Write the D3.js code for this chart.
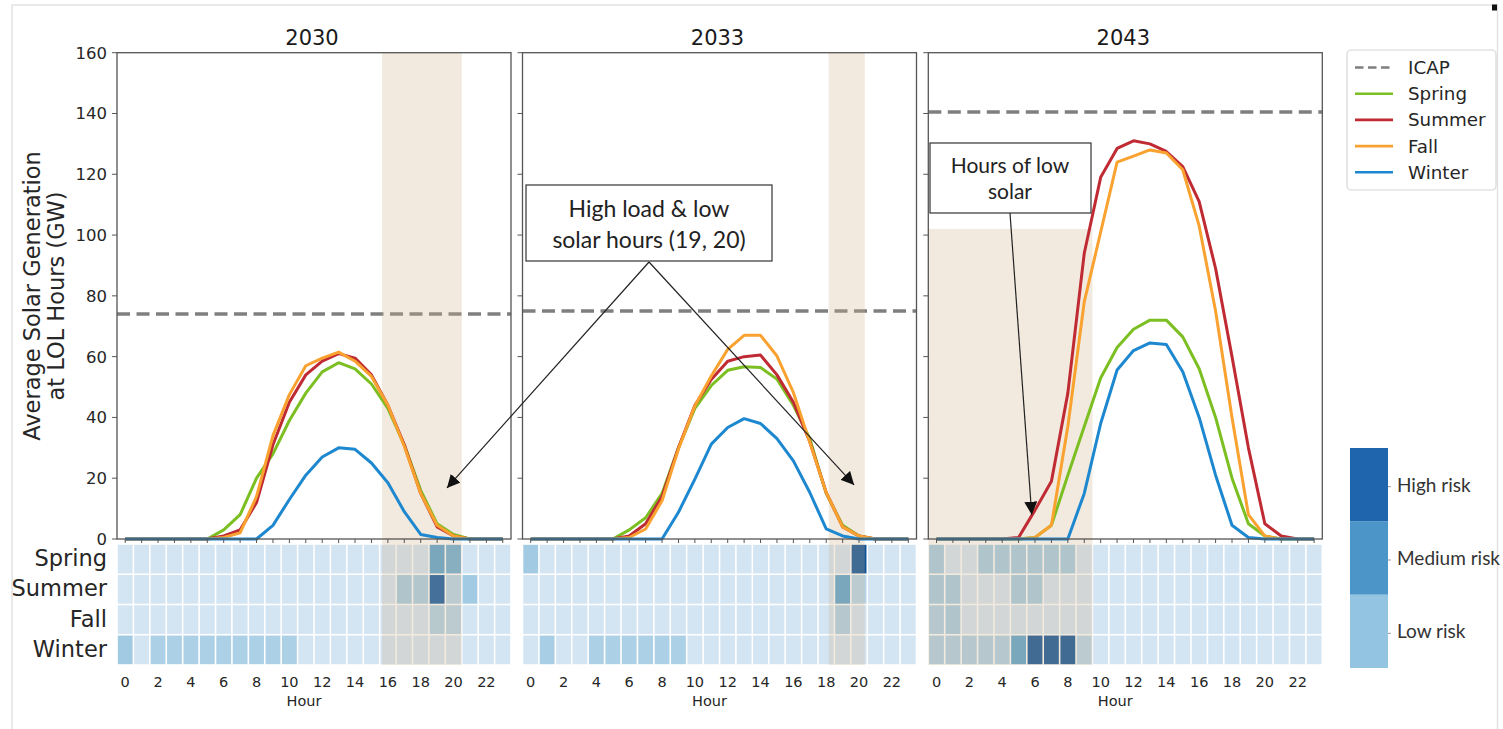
<!DOCTYPE html>
<html><head><meta charset="utf-8">
<script src="https://cdn.jsdelivr.net/npm/d3@7"></script>
<style>
html,body{margin:0;padding:0;background:#fff;}
svg{display:block;}
</style></head>
<body>
<svg id="chart" width="1503" height="729"></svg>
<script>
// ---------------- data ----------------
const years = ["2030", "2033", "2043"];
const seasons = ["Spring", "Summer", "Fall", "Winter"];
const hours = [0,1,2,3,4,5,6,7,8,9,10,11,12,13,14,15,16,17,18,19,20,21,22,23];
const hourTicks = [0,2,4,6,8,10,12,14,16,18,20,22];
const yTicks = [0,20,40,60,80,100,120,140,160];
const icap = [74, 75, 140.5];

const spring2030 = [0,0,0,0,0,0,3,8,20,28,39,48,55,58,56,51,43,31,16,5,1.5,0,0,0];
const summer2030 = [0,0,0,0,0,0,1,3,12,31,45,54,58.5,61,59.5,54,44,31,15,4,1,0,0,0];
const fall2030   = [0,0,0,0,0,0,0.5,2,14,34,47.5,57,59.5,61.5,58.5,53.5,44,30.5,15,4.5,1,0,0,0];
const winter2030 = [0,0,0,0,0,0,0,0,0,4.5,13,21,27,30,29.5,25,18.5,9,1.5,0.5,0,0,0,0];

const spring2033 = [0,0,0,0,0,0,3,7,15,30,43,50.5,55.5,56.7,56.4,52.6,44,33,15,4.5,1,0,0,0];
const summer2033 = [0,0,0,0,0,0,1,5,14,30,44,52.5,58.5,60,60.5,54,45,32,15.3,4,1,0,0,0];
const fall2033   = [0,0,0,0,0,0,0.5,3.3,12.6,29.6,43.8,53.6,62.4,67,67,60.2,48.2,31.8,15.3,4,1,0,0,0];
const winter2033 = [0,0,0,0,0,0,0,0,0,8.8,19.7,31.2,36.7,39.6,38,33,25.7,15.3,3.3,1,0,0,0,0];

const spring2043 = [0,0,0,0,0,0,0.5,4.5,21,37,53,63,69,72,72,66.5,56,40,20,5,1,0,0,0];
const summer2043 = [0,0,0,0,0,0.5,9.5,19,48,94,119,128.5,131,130,127.5,122.5,111,89,60,30,5,1,0,0];
const fall2043   = [0,0,0,0,0,0,0.5,4.5,37,78,101,124,126,128,127,121.5,103,75,40,8,1,0,0,0];
const winter2043 = [0,0,0,0,0,0,0,0,0,15,38,55.6,62,64.5,64,55,40,21,4.5,0.5,0,0,0,0];

// risk intensity per season (rows) and hour (cols)
const risk2030 = [
  [.18,.18,.18,.18,.18,.18,.18,.18,.18,.18,.18,.18,.18,.18,.18,.18,.18,.18,.18,.55,.5,.18,.18,.18],
  [.18,.18,.18,.18,.18,.18,.18,.18,.18,.18,.18,.18,.18,.18,.18,.18,.18,.36,.34,.85,.3,.36,.18,.18],
  [.18,.18,.18,.18,.18,.18,.18,.18,.18,.18,.18,.18,.18,.18,.18,.18,.18,.18,.18,.32,.3,.18,.18,.18],
  [.36,.18,.33,.33,.33,.33,.33,.33,.33,.33,.33,.18,.18,.18,.18,.18,.18,.18,.18,.18,.18,.18,.18,.18]
];
const risk2033 = [
  [.36,.18,.18,.18,.18,.18,.18,.18,.18,.18,.18,.18,.18,.18,.18,.18,.18,.18,.18,.18,.88,.18,.18,.18],
  [.18,.18,.18,.18,.18,.18,.18,.18,.18,.18,.18,.18,.18,.18,.18,.18,.18,.18,.18,.55,.3,.18,.18,.18],
  [.18,.18,.18,.18,.18,.18,.18,.18,.18,.18,.18,.18,.18,.18,.18,.18,.18,.18,.18,.33,.18,.18,.18,.18],
  [.18,.34,.18,.18,.33,.33,.33,.33,.33,.33,.18,.18,.18,.18,.18,.18,.18,.18,.18,.18,.18,.18,.18,.18]
];
const risk2043 = [
  [.36,.18,.18,.36,.36,.36,.36,.36,.36,.18,.18,.18,.18,.18,.18,.18,.18,.18,.18,.18,.18,.18,.18,.18],
  [.36,.36,.18,.18,.18,.36,.36,.18,.18,.18,.18,.18,.18,.18,.18,.18,.18,.18,.18,.18,.18,.18,.18,.18],
  [.33,.36,.18,.18,.18,.18,.18,.18,.18,.18,.18,.18,.18,.18,.18,.18,.18,.18,.18,.18,.18,.18,.18,.18],
  [.33,.33,.33,.33,.33,.55,.88,.88,.88,.3,.18,.18,.18,.18,.18,.18,.18,.18,.18,.18,.18,.18,.18,.18]
];

// shaded windows: [start hour edge, end hour edge, top value]
const windows = [[15.65, 20.5, 160], [18.15, 20.35, 160], [-0.5, 9.5, 102]];

const riskLevels = ["Low risk", "Medium risk", "High risk"];
const riskColors = ["#93c4e1", "#4b95c9", "#1f65ad"];

const seriesColors = {Spring: "#7cbf22", Summer: "#bf2a33", Fall: "#f9a230", Winter: "#1d88cf"};
const lineData = [
  {Spring: spring2030, Summer: summer2030, Fall: fall2030, Winter: winter2030},
  {Spring: spring2033, Summer: summer2033, Fall: fall2033, Winter: winter2033},
  {Spring: spring2043, Summer: summer2043, Fall: fall2043, Winter: winter2043}
];
const riskData = [risk2030, risk2033, risk2043];

// ---------------- layout ----------------
const svg = d3.select("#chart");
const panelLefts = [117, 522.5, 928.3];
const panelW = 394;
const plotTop = 52.7, plotBottom = 539;
const heatTop = 544, heatBottom = 665;
const DV = "DejaVu Sans, sans-serif";
const LATO = "Lato, sans-serif";

// page frame
svg.append("rect").attr("x",0).attr("y",0).attr("width",1503).attr("height",729).attr("fill","#fff");
svg.append("path").attr("d","M12,729 L12,5 L1497.5,5 L1497.5,729").attr("fill","none").attr("stroke","#e2e2e2").attr("stroke-width",1.5);
svg.append("rect").attr("x",1492).attr("y",4.5).attr("width",5).attr("height",6).attr("fill","#111");

const y = d3.scaleLinear().domain([0,160]).range([plotBottom, plotTop]);
const ySeason = d3.scaleBand().domain(seasons).range([heatTop, heatBottom]);
const blues = v => d3.interpolateBlues(v);
const panels = [];

years.forEach((yr, p) => {
  const left = panelLefts[p];
  const x = d3.scaleLinear().domain([-0.5, 23.5]).range([left, left + panelW]);
  const g = svg.append("g");
  const cw = x(1) - x(0);

  // heatmap
  riskData[p].forEach((row, si) => {
    g.selectAll(null).data(row).enter().append("rect")
      .attr("x", (d,i) => x(hours[i]-0.5) + 0.8)
      .attr("y", ySeason(seasons[si]) + 0.8)
      .attr("width", cw - 1.6)
      .attr("height", ySeason.bandwidth() - 1.6)
      .attr("fill", d => blues(d));
  });

  // ICAP
  g.append("line").attr("x1", x(-0.5)).attr("x2", x(23.5))
    .attr("y1", y(icap[p])).attr("y2", y(icap[p]))
    .attr("stroke", "#7f7f7f").attr("stroke-width", 3.5).attr("stroke-dasharray", "13,6.5");

  // shaded window
  const w = windows[p];
  g.append("rect").attr("x", x(w[0])).attr("width", x(w[1]) - x(w[0]))
    .attr("y", y(w[2])).attr("height", heatBottom - y(w[2]))
    .attr("fill", "rgb(210,180,140)").attr("opacity", 0.28);

  // season lines
  const line = d3.line().x((d,i) => x(hours[i])).y(d => y(d));
  seasons.forEach(s => {
    g.append("path").datum(lineData[p][s]).attr("d", line)
      .attr("fill","none").attr("stroke", seriesColors[s]).attr("stroke-width", 3)
      .attr("stroke-linejoin","round");
  });

  // frame
  g.append("rect").attr("x", left).attr("y", plotTop).attr("width", panelW).attr("height", plotBottom - plotTop)
    .attr("fill","none").attr("stroke","#555").attr("stroke-width",1.3);

  // bottom ticks (each hour)
  g.selectAll(null).data(hours).enter().append("line")
    .attr("x1", d => x(d)).attr("x2", d => x(d)).attr("y1", plotBottom).attr("y2", plotBottom + 4)
    .attr("stroke", "#555").attr("stroke-width", 1);

  // left ticks
  g.selectAll(null).data(yTicks).enter().append("line")
    .attr("x1", left - 5).attr("x2", left).attr("y1", d => y(d)).attr("y2", d => y(d))
    .attr("stroke", "#555").attr("stroke-width", 1);

  if (p === 0) {
    g.selectAll(null).data(yTicks).enter().append("text")
      .attr("x", left - 10).attr("y", d => y(d)).attr("dy", "0.36em")
      .attr("text-anchor","end").attr("font-family", DV).attr("font-size", 16.5).attr("fill","#262626")
      .text(d => d);
    g.selectAll(null).data(seasons).enter().append("text")
      .attr("x", 107).attr("y", d => ySeason(d) + ySeason.bandwidth()/2 - 1).attr("dy","0.36em")
      .attr("text-anchor","end").attr("font-family", DV).attr("font-size", 22.5).attr("fill","#262626")
      .text(d => d);
  }

  // hour tick labels
  g.selectAll(null).data(hourTicks).enter().append("text")
    .attr("x", d => x(d)).attr("y", 686.5)
    .attr("text-anchor","middle").attr("font-family", DV).attr("font-size", 14.5).attr("fill","#262626")
    .text(d => d);
  g.append("text").attr("x", left + panelW/2 - 10).attr("y", 705.5)
    .attr("text-anchor","middle").attr("font-family", DV).attr("font-size", 14.5).attr("fill","#262626")
    .text("Hour");

  // title
  g.append("text").attr("x", left + panelW/2 - 2).attr("y", 44.5)
    .attr("text-anchor","middle").attr("font-family", DV).attr("font-size", 21).attr("fill","#1a1a1a")
    .text(yr);

  panels.push({left, x});
});

// y label
const yl = svg.append("g").attr("font-family", DV).attr("font-size", 22.5).attr("fill","#262626").attr("text-anchor","middle");
yl.append("text").attr("transform","translate(40,296) rotate(-90)").text("Average Solar Generation");
yl.append("text").attr("transform","translate(63.5,296) rotate(-90)").text("at LOL Hours (GW)");

// legend
const lg = svg.append("g");
lg.append("rect").attr("x",1347).attr("y",50).attr("width",149).attr("height",140).attr("rx",4)
  .attr("fill","#fff").attr("stroke","#d6d6d6").attr("stroke-width",1.2);
const legendItems = ["ICAP"].concat(seasons);
legendItems.forEach((name, i) => {
  const by = 74 + i * 26.2;
  lg.append("line").attr("x1",1355).attr("x2",1393).attr("y1",by-6.5).attr("y2",by-6.5)
    .attr("stroke", name === "ICAP" ? "#7f7f7f" : seriesColors[name]).attr("stroke-width", 2.6)
    .attr("stroke-dasharray", name === "ICAP" ? "8.5,4.5" : null);
  lg.append("text").attr("x",1408).attr("y",by).attr("font-family",DV).attr("font-size",18.3).attr("fill","#262626").text(name);
});

// colorbar
const cb = d3.scaleLinear().domain([0,3]).range([668,448]);
riskLevels.forEach((lvl, i) => {
  svg.append("rect").attr("x",1350).attr("width",38).attr("y",cb(i+1)).attr("height",cb(i)-cb(i+1)).attr("fill",riskColors[i]);
  svg.append("line").attr("x1",1388).attr("x2",1391).attr("y1",cb(i+0.5)+2).attr("y2",cb(i+0.5)+2).attr("stroke","#999").attr("stroke-width",1);
  svg.append("text").attr("x",1397).attr("y",cb(i+0.5)).attr("dy","0.36em").attr("font-family",LATO).attr("font-size",19).attr("fill","#333").text(lvl);
});

// annotations
const defs = svg.append("defs");
defs.append("marker").attr("id","ah").attr("viewBox","0 0 10 10").attr("refX",10).attr("refY",5)
  .attr("markerWidth",13).attr("markerHeight",13).attr("markerUnits","userSpaceOnUse").attr("orient","auto")
  .append("path").attr("d","M0,0 L10,5 L0,10 z").attr("fill","#111");

const p1 = panels[0], p2 = panels[1], p3 = panels[2];
const an = svg.append("g");
// arrows from box 1
const apex = [649, 262];
an.append("line").attr("x1",apex[0]).attr("y1",apex[1]).attr("x2",p1.x(19.6)).attr("y2",y(16.8))
  .attr("stroke","#222").attr("stroke-width",1.2).attr("marker-end","url(#ah)");
an.append("line").attr("x1",apex[0]).attr("y1",apex[1]).attr("x2",p2.x(19.7)).attr("y2",y(17.8))
  .attr("stroke","#222").attr("stroke-width",1.2).attr("marker-end","url(#ah)");
an.append("rect").attr("x",526).attr("y",185).attr("width",246).attr("height",76)
  .attr("fill","#fff").attr("stroke","#333").attr("stroke-width",1.2);
an.append("text").attr("x",649).attr("y",216.5).attr("text-anchor","middle").attr("font-family",LATO).attr("font-size",23).attr("fill","#222").text("High load & low");
an.append("text").attr("x",649).attr("y",248).attr("text-anchor","middle").attr("font-family",LATO).attr("font-size",23).attr("fill","#222").text("solar hours (19, 20)");

// arrow from box 2
an.append("line").attr("x1",1010).attr("y1",213).attr("x2",p3.x(5.8)).attr("y2",y(8))
  .attr("stroke","#222").attr("stroke-width",1.2).attr("marker-end","url(#ah)");
an.append("rect").attr("x",930).attr("y",143).attr("width",161).attr("height",70)
  .attr("fill","#fff").attr("stroke","#333").attr("stroke-width",1.2);
an.append("text").attr("x",1010).attr("y",172.5).attr("text-anchor","middle").attr("font-family",LATO).attr("font-size",21).attr("fill","#222").text("Hours of low");
an.append("text").attr("x",1010).attr("y",198.5).attr("text-anchor","middle").attr("font-family",LATO).attr("font-size",21).attr("fill","#222").text("solar");
</script>
</body></html>
